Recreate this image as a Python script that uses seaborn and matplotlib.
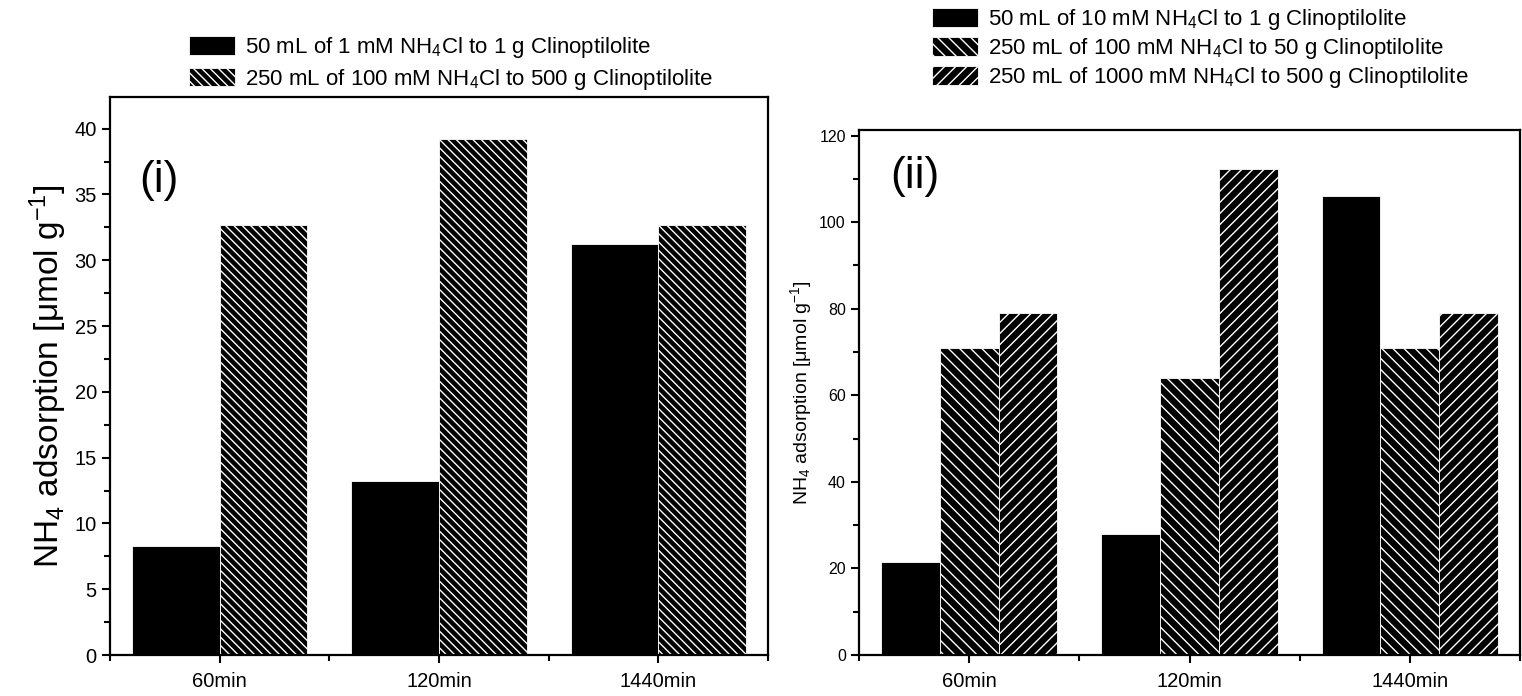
import pandas as pd
import matplotlib
matplotlib.use("Agg")
import matplotlib.pyplot as plt
from matplotlib.ticker import MultipleLocator, FixedLocator
import seaborn as sns

# data
times = ["60min", "120min", "1440min"]

left_labels = [
    "50 mL of 1 mM NH$_4$Cl to 1 g Clinoptilolite",
    "250 mL of 100 mM NH$_4$Cl to 500 g Clinoptilolite",
]
left_1mM = [8.3, 13.2, 31.2]
left_100mM = [32.7, 39.2, 32.7]

right_labels = [
    "50 mL of 10 mM NH$_4$Cl to 1 g Clinoptilolite",
    "250 mL of 100 mM NH$_4$Cl to 50 g Clinoptilolite",
    "250 mL of 1000 mM NH$_4$Cl to 500 g Clinoptilolite",
]
right_10mM = [21.5, 27.9, 106.1]
right_100mM = [71.0, 64.1, 71.0]
right_1000mM = [79.0, 112.3, 79.0]


def long_table(labels, series):
    rows = []
    for lab, vals in zip(labels, series):
        for t, v in zip(times, vals):
            rows.append({"time": t, "value": v, "series": lab})
    return pd.DataFrame(rows)


sns.set_style("ticks")
plt.rcParams["font.family"] = ["Liberation Sans", "DejaVu Sans"]
plt.rcParams["mathtext.fontset"] = "custom"
plt.rcParams["mathtext.rm"] = "Liberation Sans"
plt.rcParams["mathtext.it"] = "Liberation Sans:italic"
plt.rcParams["mathtext.bf"] = "Liberation Sans:bold"
plt.rcParams["hatch.linewidth"] = 1.0
for key in ["text.color", "axes.labelcolor", "xtick.color", "ytick.color"]:
    plt.rcParams[key] = "black"

fig = plt.figure(figsize=(15.22, 6.96), dpi=100)
ax1 = fig.add_axes([0.0723, 0.0589, 0.4323, 0.8017])
ax2 = fig.add_axes([0.5644, 0.0589, 0.4343, 0.7543])


def draw_panel(ax, labels, series, hatches, tick_size, ylabel_size):
    df = long_table(labels, series)
    sns.barplot(data=df, x="time", y="value", hue="series", hue_order=labels,
                palette=["black"] * len(labels), saturation=1, width=0.8,
                edgecolor="white", linewidth=0.6, ax=ax, legend=False)
    for cont, h in zip(ax.containers, hatches):
        for bar in cont:
            bar.set_hatch(h)
    ax.set_xlim(-0.5, 2.5)
    ax.set_xlabel("")
    ax.set_ylabel("NH$_4$ adsorption [μmol g$^{-1}$]", fontsize=ylabel_size)
    ax.xaxis.set_minor_locator(FixedLocator([-0.5, 0.5, 1.5, 2.5]))
    for s in ax.spines.values():
        s.set_linewidth(1.6)
        s.set_color("black")
    ax.tick_params(which="major", direction="out", length=6, width=1.5,
                   labelsize=tick_size)
    ax.tick_params(which="minor", direction="out", length=4, width=1.5)
    ax.tick_params(axis="x", labelsize=14.5, pad=6)


draw_panel(ax1, left_labels, [left_1mM, left_100mM], ["", "\\\\\\\\"], 14.5, 24)
ax1.set_ylim(0, 42.4)
ax1.yaxis.set_major_locator(MultipleLocator(5))
ax1.yaxis.set_minor_locator(MultipleLocator(2.5))
ax1.text(0.045, 0.851, "(i)", transform=ax1.transAxes, fontsize=32,
         va="center")
fig.legend(handles=ax1.containers, labels=left_labels, loc="upper left",
           bbox_to_anchor=(189 / 1522, 1 - 35 / 696), frameon=False,
           fontsize=16, handlelength=2.07, handleheight=0.9,
           labelspacing=0.3, handletextpad=0.45, borderpad=0,
           borderaxespad=0)

draw_panel(ax2, right_labels, [right_10mM, right_100mM, right_1000mM],
           ["", "\\\\\\", "///"], 11.5, 14)
ax2.set_ylim(0, 121.3)
ax2.yaxis.set_major_locator(MultipleLocator(20))
ax2.yaxis.set_minor_locator(MultipleLocator(10))
ax2.text(0.047, 0.912, "(ii)", transform=ax2.transAxes, fontsize=32,
         va="center")
fig.legend(handles=ax2.containers, labels=right_labels, loc="upper left",
           bbox_to_anchor=(932 / 1522, 1 - 7 / 696), frameon=False,
           fontsize=16, handlelength=2.07, handleheight=0.9,
           labelspacing=0.18, handletextpad=0.45, borderpad=0,
           borderaxespad=0)

fig.savefig("out.png", dpi=100)
